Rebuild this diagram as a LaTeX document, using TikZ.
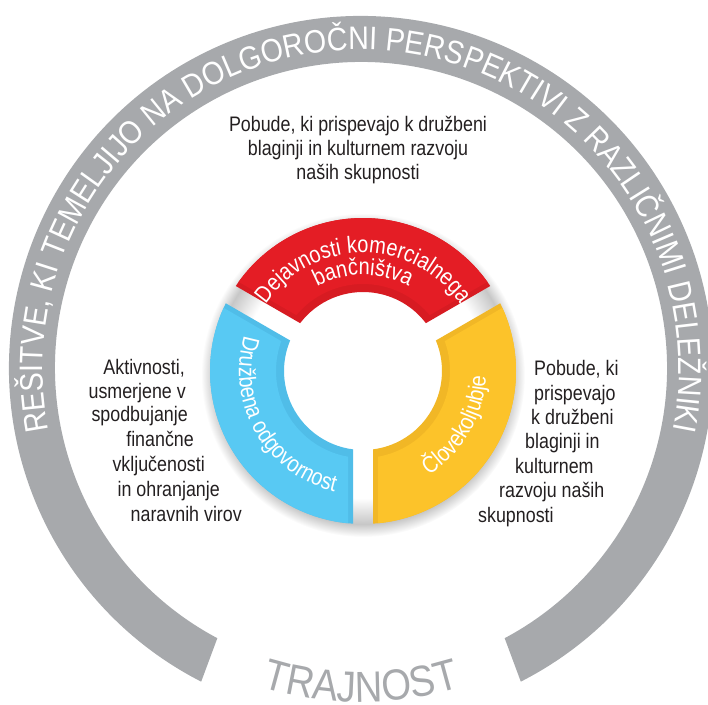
\documentclass[tikz,border=0pt]{standalone}
\usepackage{fontspec}
\setmainfont{Liberation Sans}[FakeStretch=0.85]
\newfontfamily\ringfamily{Liberation Sans}[FakeStretch=0.88]
\usetikzlibrary{positioning}
\usetikzlibrary{decorations.text}

\definecolor{ringgray}{HTML}{A7A9AC}
\definecolor{textblack}{HTML}{231F20}
\definecolor{bankred}{HTML}{E41D25}
\definecolor{bankreddark}{HTML}{D71B22}
\definecolor{socialblue}{HTML}{58C9F3}
\definecolor{socialbluedark}{HTML}{50BDE8}
\definecolor{charityyellow}{HTML}{FCC32A}
\definecolor{charityyellowdark}{HTML}{F1B726}

\pgfdeclareradialshading{donutshadow}{\pgfpoint{0bp}{0bp}}{color(0bp)=(white); color(19bp)=(white); color(23bp)=(black!22); color(25bp)=(white); color(50bp)=(white)}

\newcommand{\ringfont}{\ringfamily\fontsize{32.5}{36}\selectfont\color{white}}
\newcommand{\segfont}{\fontsize{23.5}{26}\selectfont\color{white}}
\newcommand{\bigfont}{\ringfamily\fontsize{43.5}{48}\selectfont\color{ringgray}}

% #1 colour, #2 first ray, #3 second ray, #4 half gap, #5 inner r, #6 outer r
\newcommand{\donutpart}[6]{%
  \pgfmathsetmacro{\dpA}{#2+asin(#4/#6)}%
  \pgfmathsetmacro{\dpB}{#3-asin(#4/#6)}%
  \pgfmathsetmacro{\dpC}{#3-asin(#4/#5)}%
  \pgfmathsetmacro{\dpD}{#2+asin(#4/#5)}%
  \fill[#1] (\dpA:#6) arc[start angle=\dpA, end angle=\dpB, radius=#6pt]
    -- (\dpC:#5) arc[start angle=\dpC, end angle=\dpD, radius=#5pt] -- cycle;}

\begin{document}
\begin{tikzpicture}[x=1pt,y=1pt,
    plain text/.style={text=textblack, font=\fontsize{21}{24}\selectfont, inner sep=0pt},
    on arc/.style={decorate, decoration={text along path, text align=center, text={#1}}}]
\clip (0,0) rectangle (708,704);
\coordinate (ringc) at (361,336);
\coordinate (donut) at (363,333);

% grey ring and its texts
\fill[ringgray, shift={(ringc)}] (-63:352) arc[start angle=-63, end angle=243, radius=352pt]
  -- (242:306) arc[start angle=242, end angle=-62, radius=306pt] -- cycle;
\path[on arc={|\ringfont|REŠITVE, KI TEMELJIJO NA DOLGOROČNI PERSPEKTIVI Z RAZLIČNIMI DELEŽNIKI}, shift={(ringc)}]
  (205:318) arc[start angle=205, end angle=-25, radius=318pt];
\path[on arc={|\bigfont|TRAJNOST}, shift={(ringc)}]
  (240:334) arc[start angle=240, end angle=300, radius=334pt];

% donut
\shade[shading=donutshadow] ([yshift=-4pt]donut) circle[radius=162pt];
\begin{scope}[shift={(donut)}]
  \donutpart{bankreddark}{30}{150}{10}{79}{153}
  \donutpart{bankred}{30}{150}{15}{87}{153}
  \donutpart{socialbluedark}{150}{270}{10}{79}{153}
  \donutpart{socialblue}{150}{270}{15}{87}{153}
  \donutpart{charityyellowdark}{270}{390}{10}{79}{153}
  \donutpart{charityyellow}{270}{390}{15}{87}{153}
  \path[on arc={|\segfont|Dejavnosti komercialnega}] (175:118) arc[start angle=175, end angle=5, radius=118pt];
  \path[on arc={|\segfont|bančništva}] (170:96) arc[start angle=170, end angle=10, radius=96pt];
  \path[on arc={|\segfont|Družbena odgovornost}] (125:124) arc[start angle=125, end angle=295, radius=124pt];
  \path[on arc={|\segfont|Človekoljubje}] (250:123) arc[start angle=250, end angle=410, radius=123pt];
\end{scope}

% notes round the donut
\node[plain text, align=center, anchor=north] (topnote) at (358,588)
  {Pobude, ki prispevajo k družbeni\\blaginji in kulturnem razvoju\\naših skupnosti};
\foreach \txt/\xr/\yb [count=\i] in {{Aktivnosti,}/185/329, usmerjene v/186/305, spodbujanje/188/282,
    finančne/194/258, vključenosti/205/233, in ohranjanje/220/208, naravnih virov/242/183}
  \node[plain text, anchor=base east] (left\i) at (\xr,\yb) {\txt};
\foreach \txt/\xl/\yb [count=\i] in {{Pobude, ki}/534/328, prispevajo/534/303, k družbeni/531/279,
    blaginji in/525/255, kulturnem/515/231, razvoju naših/499/207, skupnosti/478/182}
  \node[plain text, anchor=base west] (right\i) at (\xl,\yb) {\txt};
\end{tikzpicture}
\end{document}
